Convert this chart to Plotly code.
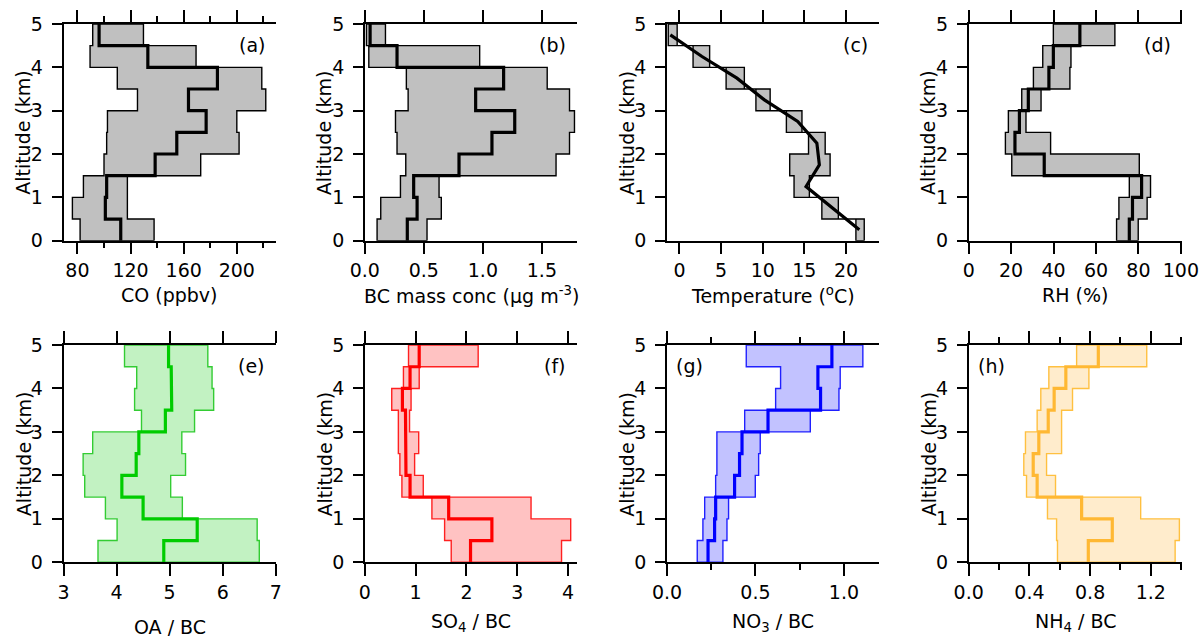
import plotly.graph_objects as go

# ---------------- data (altitude bins of 0.5 km) ----------------
alt_bottom = [0.0, 0.5, 1.0, 1.5, 2.0, 2.5, 3.0, 3.5, 4.0, 4.5]
bin_width = 0.5

co_p25 = [82.0, 76.2, 84.5, 100.0, 102.0, 102.6, 125.2, 110.0, 89.5, 91.5]
co_med = [112.6, 101.0, 102.0, 138.5, 154.8, 176.9, 163.6, 185.4, 133.0, 96.3]
co_p75 = [137.7, 117.6, 117.6, 172.8, 201.7, 200.0, 221.8, 218.8, 169.3, 129.7]

bc_p25 = [0.104, 0.135, 0.302, 0.347, 0.273, 0.260, 0.367, 0.352, 0.034, 0.014]
bc_med = [0.360, 0.443, 0.414, 0.798, 1.077, 1.270, 0.939, 1.176, 0.273, 0.045]
bc_p75 = [0.527, 0.648, 0.629, 1.620, 1.734, 1.776, 1.734, 1.545, 0.973, 0.175]

t_p25 = [21.19, 17.10, 13.76, 13.24, 15.50, 12.84, 9.18, 5.60, 1.63, -1.35]
t_med = [21.6, 18.4, 15.2, 16.8, 16.5, 14.2, 10.2, 6.9, 2.7, -1.1]
t_p75 = [22.19, 19.08, 15.60, 18.09, 17.50, 14.71, 10.89, 7.79, 3.62, -0.28]

rh_p25 = [69.7, 70.8, 75.7, 20.3, 17.3, 18.7, 25.0, 30.5, 34.9, 39.9]
rh_med = [75.7, 77.2, 81.5, 35.6, 21.8, 23.9, 28.1, 37.8, 39.9, 52.4]
rh_p75 = [79.9, 84.1, 85.7, 80.4, 38.6, 27.0, 34.1, 47.7, 48.2, 68.9]

oa_p25 = [3.65, 4.01, 3.79, 3.40, 3.37, 3.55, 4.47, 4.34, 4.38, 4.15]
oa_med = [4.89, 5.52, 4.50, 4.10, 4.37, 4.42, 4.92, 5.04, 5.03, 4.98]
oa_p75 = [6.69, 6.65, 5.24, 5.02, 5.30, 5.23, 5.47, 5.83, 5.80, 5.72]

so4_p25 = [1.70, 1.57, 1.32, 0.73, 0.69, 0.66, 0.66, 0.53, 0.76, 0.86]
so4_med = [2.08, 2.50, 1.65, 0.89, 0.81, 0.80, 0.80, 0.74, 0.89, 1.07]
so4_p75 = [3.87, 4.05, 3.27, 1.15, 0.98, 1.06, 0.88, 0.91, 1.07, 2.23]

no3_p25 = [0.171, 0.203, 0.213, 0.275, 0.282, 0.282, 0.439, 0.614, 0.642, 0.448]
no3_med = [0.232, 0.269, 0.275, 0.382, 0.410, 0.424, 0.571, 0.868, 0.853, 0.932]
no3_p75 = [0.316, 0.339, 0.348, 0.499, 0.518, 0.527, 0.810, 0.972, 0.979, 1.107]

nh4_p25 = [0.585, 0.579, 0.519, 0.381, 0.363, 0.374, 0.451, 0.475, 0.528, 0.711]
nh4_med = [0.788, 0.946, 0.744, 0.451, 0.425, 0.462, 0.524, 0.563, 0.640, 0.854]
nh4_p75 = [1.360, 1.388, 1.133, 0.572, 0.513, 0.612, 0.612, 0.684, 0.792, 1.173]

x_titles = ["CO (ppbv)", "BC mass conc (µg m<sup>-3</sup>)", "Temperature (<sup>o</sup>C)", "RH (%)",
            "OA / BC", "SO<sub>4</sub> / BC", "NO<sub>3</sub> / BC", "NH<sub>4</sub> / BC"]
panel_labels = ["(a)", "(b)", "(c)", "(d)", "(e)", "(f)", "(g)", "(h)"]
y_title = "Altitude (km)"

# ---------------- styling ----------------
FONT = "DejaVu Sans"
FS = 19
col_px = [(63.5, 276.0), (364.8, 577.3), (667.0, 879.3), (968.7, 1181.5)]
row_px = [(24.0, 240.7), (345.0, 562.3)]
W, H = 1202, 638

panels = [
    dict(p25=co_p25, med=co_med, p75=co_p75, fill="#c0c0c0", line="black", medc="black",
         rng=[69.5, 229.5], tick0=80, dtick=40, minor=20, fmt="d", lab="right", style="step"),
    dict(p25=bc_p25, med=bc_med, p75=bc_p75, fill="#c0c0c0", line="black", medc="black",
         rng=[0, 1.8], tick0=0, dtick=0.5, minor=None, fmt=".1f", lab="right", style="step"),
    dict(p25=t_p25, med=t_med, p75=t_p75, fill="#c0c0c0", line="black", medc="black",
         rng=[-1.5, 24], tick0=0, dtick=5, minor=None, fmt="d", lab="right", style="line"),
    dict(p25=rh_p25, med=rh_med, p75=rh_p75, fill="#c0c0c0", line="black", medc="black",
         rng=[0, 100.3], tick0=0, dtick=20, minor=None, fmt="d", lab="right", style="step"),
    dict(p25=oa_p25, med=oa_med, p75=oa_p75, fill="#c2f2c2", line="#33cc33", medc="#00cc00",
         rng=[3, 7.005], tick0=3, dtick=1, minor=None, fmt="d", lab="right", style="step"),
    dict(p25=so4_p25, med=so4_med, p75=so4_p75, fill="#ffc2c2", line="#ff2020", medc="#ff0000",
         rng=[0, 4.18], tick0=0, dtick=1, minor=None, fmt="d", lab="right", style="step"),
    dict(p25=no3_p25, med=no3_med, p75=no3_p75, fill="#c2c2ff", line="#2020ff", medc="#0000ff",
         rng=[0, 1.2], tick0=0, dtick=0.5, minor=0.25, fmt=".1f", lab="left", style="step"),
    dict(p25=nh4_p25, med=nh4_med, p75=nh4_p75, fill="#ffeccc", line="#ffc040", medc="#ffb833",
         rng=[0, 1.402], tick0=0, dtick=0.4, minor=0.2, fmt=".1f", lab="left", style="step"),
]

fig = go.Figure()
annotations = []

for k, p in enumerate(panels):
    r, c = divmod(k, 4)
    sfx = "" if k == 0 else str(k + 1)
    xa, ya = "x" + sfx, "y" + sfx
    # IQR polygon: right edge upward, left edge downward
    px, py = [], []
    for i, b in enumerate(alt_bottom):
        px += [p["p75"][i], p["p75"][i]]
        py += [b, b + bin_width]
    for i in reversed(range(len(alt_bottom))):
        b = alt_bottom[i]
        px += [p["p25"][i], p["p25"][i]]
        py += [b + bin_width, b]
    px.append(px[0]); py.append(py[0])
    fig.add_trace(go.Scatter(x=px, y=py, mode="lines", fill="toself", fillcolor=p["fill"],
                             line=dict(color=p["line"], width=1.4), xaxis=xa, yaxis=ya,
                             showlegend=False, hoverinfo="skip"))
    # median
    if p["style"] == "step":
        mx, my = [], []
        for i, b in enumerate(alt_bottom):
            mx += [p["med"][i], p["med"][i]]
            my += [b, b + bin_width]
    else:
        mx = list(p["med"])
        my = [b + bin_width / 2 for b in alt_bottom]
    fig.add_trace(go.Scatter(x=mx, y=my, mode="lines", line=dict(color=p["medc"], width=3.2),
                             xaxis=xa, yaxis=ya, showlegend=False))

    x0, x1 = col_px[c]
    y0, y1 = row_px[r]
    xdict = dict(domain=[x0 / W, x1 / W], range=p["rng"], anchor=ya, showline=True,
                 linecolor="black", linewidth=1.5, mirror="ticks", ticks="outside",
                 ticklen=12, tickwidth=1.5, tickcolor="black", tick0=p["tick0"], dtick=p["dtick"],
                 tickformat=p["fmt"], showgrid=False, zeroline=False, automargin=False,
                 tickfont=dict(family=FONT, size=FS, color="black"), ticklabelstandoff=0)
    if p["minor"]:
        xdict["minor"] = dict(dtick=p["minor"], tick0=p["tick0"], ticks="outside", ticklen=6,
                              tickwidth=1.5, tickcolor="black", showgrid=False)
    ydict = dict(domain=[1 - y1 / H, 1 - y0 / H], range=[0, 5], anchor=xa, showline=True,
                 linecolor="black", linewidth=1.5, ticks="outside", ticklen=10, tickwidth=1.5,
                 tickcolor="black", dtick=1, showgrid=False, zeroline=False, automargin=False,
                 tickfont=dict(family=FONT, size=FS, color="black"), ticklabelstandoff=5)
    fig.update_layout(**{"xaxis" + sfx: xdict, "yaxis" + sfx: ydict})

    # panel label
    if p["lab"] == "right":
        annotations.append(dict(text=panel_labels[k], xref=xa + " domain", yref=ya + " domain",
                                x=1, y=1, xshift=-9, yshift=-21, xanchor="right", yanchor="middle",
                                showarrow=False, font=dict(family=FONT, size=FS, color="black")))
    else:
        annotations.append(dict(text=panel_labels[k], xref=xa + " domain", yref=ya + " domain",
                                x=0, y=1, xshift=7, yshift=-21, xanchor="left", yanchor="middle",
                                showarrow=False, font=dict(family=FONT, size=FS, color="black")))
    # x title
    ty = 295 if r == 0 else 627
    shift = 5 if "<sub>" in x_titles[k] else 0
    annotations.append(dict(text=x_titles[k], xref=xa + " domain", yref="paper", x=0.5,
                            y=1 - ty / H, yshift=shift, xanchor="center", yanchor="middle",
                            showarrow=False, font=dict(family=FONT, size=FS, color="black")))
    # y title
    annotations.append(dict(text=y_title, xref=xa + " domain", yref=ya + " domain", x=0, y=0.5,
                            xshift=-40, xanchor="center", yanchor="middle", textangle=-90,
                            showarrow=False, font=dict(family=FONT, size=FS, color="black")))

fig.update_layout(template="none", width=W, height=H, autosize=False,
                  margin=dict(l=0, r=0, t=0, b=0, pad=0),
                  paper_bgcolor="white", plot_bgcolor="white", annotations=annotations,
                  font=dict(family=FONT, size=FS, color="black"), showlegend=False)

fig.write_html("out.html", config={"displayModeBar": False},
               post_script="document.body.style.margin='0px';document.body.style.overflow='hidden';")
